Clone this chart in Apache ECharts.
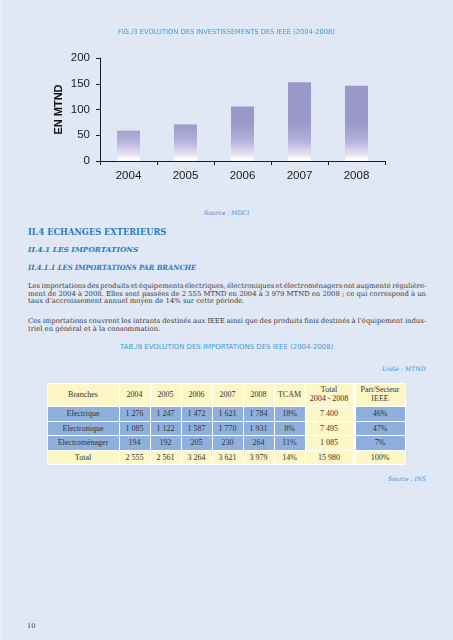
<!DOCTYPE html>
<html><head><meta charset="utf-8">
<script src="https://cdn.jsdelivr.net/npm/echarts@6/dist/echarts.min.js"></script>
<style>
html,body{margin:0;padding:0;}
body{width:453px;height:640px;background:#e1e8f5;position:relative;overflow:hidden;}
#edge{position:absolute;left:0;top:0;width:2px;height:640px;background:#e9eff9;}
#chart{position:absolute;left:0;top:0;width:453px;height:200px;}
.t{position:absolute;white-space:nowrap;transform-origin:0 50%;}
.cap{font-family:"DejaVu Sans Condensed","DejaVu Sans",sans-serif;color:#3d9bd6;}
.src{font-family:"DejaVu Serif",serif;font-style:italic;color:#3a8ccf;}
.h{font-family:"DejaVu Serif",serif;font-weight:bold;color:#2a7cc0;}
.hi{font-family:"DejaVu Serif",serif;font-weight:bold;font-style:italic;color:#2a7cc0;}
.pn{font-family:"DejaVu Serif",serif;color:#333;}
.line{position:absolute;left:28px;white-space:nowrap;font-family:"DejaVu Serif",serif;color:#3a3a3a;}
#tbl{position:absolute;left:46.5px;top:382.5px;border-collapse:collapse;font-family:"Liberation Serif",serif;font-size:7.5px;color:#333;table-layout:fixed;}
#tbl td{border:1px solid #fff;text-align:center;padding:0;overflow:hidden;white-space:nowrap;}
#probe{position:absolute;left:0;top:-50px;white-space:nowrap;font-size:10px;}
</style></head>
<body>
<div id="edge"></div>
<div id="chart"></div>
<div id="texts"></div>
<table id="tbl"></table>
<span id="probe"></span>
<script>
// ---- chart data ----
const years = ['2004', '2005', '2006', '2007', '2008'];
const invest = [59, 71, 106, 153, 146];
const yAxisName = 'EN MTND';
const figTitle = 'FIG./3 EVOLUTION DES INVESTISSEMENTS DES IEEE (2004-2008)';

// ---- table data ----
const tabTitle = 'TAB./8  EVOLUTION DES IMPORTATIONS DES IEEE (2004-2008)';
const tableHeader = ['Branches', '2004', '2005', '2006', '2007', '2008', 'TCAM', 'Total<br>2004 - 2008', 'Part/Secteur<br>IEEE'];
const rowElectrique = ['Electrique', '1 276', '1 247', '1 472', '1 621', '1 784', '18%', '7 400', '46%'];
const rowElectronique = ['Electronique', '1 085', '1 122', '1 587', '1 770', '1 931', '8%', '7 495', '47%'];
const rowElectromenager = ['Electroménager', '194', '192', '205', '230', '264', '11%', '1 085', '7%'];
const rowTotal = ['Total', '2 555', '2 561', '3 264', '3 621', '3 979', '14%', '15 980', '100%'];

// ---- page text ----
const para1 = [
  'Les importations des produits et équipements électriques, électroniques et électroménagers ont augmenté régulière-',
  'ment de 2004 à 2008. Elles sont passées de 2 555 MTND en 2004 à 3 979 MTND en 2008 ; ce qui correspond à un',
  'taux d\u2019accroissement annuel moyen de 14% sur cette période.'
];
const para2 = [
  'Ces importations couvrent les intrants destinés aux IEEE ainsi que des produits finis destinés à l\u2019équipement indus-',
  'triel en général et à la consommation.'
];

// ---- chart ----
const chart = echarts.init(document.getElementById('chart'), null, {renderer: 'canvas'});
const axisColor = '#1a1a1a';
chart.setOption({
  animation: false,
  grid: {left: 100, top: 58, width: 285, height: 103},
  xAxis: {
    type: 'category', data: years,
    axisLine: {lineStyle: {color: axisColor, width: 1}},
    axisTick: {show: true, length: 4, lineStyle: {color: axisColor}},
    axisLabel: {fontFamily: 'Liberation Sans', fontSize: 11.5, color: axisColor, margin: 9}
  },
  yAxis: {
    type: 'value', min: 0, max: 200, interval: 50,
    name: yAxisName, nameLocation: 'middle', nameGap: 36, nameRotate: 90, nameMoveOverlap: false,
    nameTextStyle: {fontFamily: 'Liberation Sans', fontWeight: 'bold', fontSize: 11, color: '#111'},
    axisLine: {show: true, lineStyle: {color: axisColor, width: 1}},
    axisTick: {show: true, length: 4, lineStyle: {color: axisColor}},
    splitLine: {show: false},
    axisLabel: {fontFamily: 'Liberation Sans', fontSize: 11.5, color: axisColor, margin: 10}
  },
  series: [{
    type: 'bar', data: invest, barWidth: 23,
    itemStyle: {
      color: new echarts.graphic.LinearGradient(0, 122, 0, 159, [
        {offset: 0, color: '#9a97c9'},
        {offset: 0.5, color: '#b3b0da'},
        {offset: 0.88, color: '#e6e2f3'},
        {offset: 1, color: '#fdfbff'}
      ], true)
    }
  }]
});

// ---- page texts ----
const T = document.getElementById('texts');
function addText(cls, text, fs, x, align, cy, w) {
  const d = document.createElement('div');
  d.className = 't ' + cls;
  d.textContent = text;
  d.style.fontSize = fs + 'px';
  d.style.lineHeight = (fs * 1.2) + 'px';
  d.style.top = (cy - fs * 0.6) + 'px';
  T.appendChild(d);
  d._fit = {x: x, align: align, w: w};
  return d;
}
const items = [
  addText('cap', figTitle, 7, 226.5, 'c', 31.7, 217),
  addText('src', 'Source : MDCI', 6.3, 226.5, 'c', 213, 45),
  addText('h', 'II.4 ECHANGES EXTERIEURS', 8.5, 28, 'l', 231.7, 138),
  addText('hi', 'II.4.1 LES IMPORTATIONS', 8, 28, 'l', 249.3, 110),
  addText('hi', 'II.4.1.1 LES IMPORTATIONS PAR BRANCHE', 7.2, 28, 'l', 268.3, 168),
  addText('cap', tabTitle, 7, 226.5, 'c', 347, 213),
  addText('src', 'Unité : MTND', 6.3, 426, 'r', 368.3, 43.7),
  addText('src', 'Source : INS', 6.3, 426, 'r', 478.3, 38),
  addText('pn', '10', 6.5, 27, 'l', 627, null)
];

// body text font size chosen so the unjustified last lines match their measured widths
const probe = document.getElementById('probe');
function widthAt10(s, fam) { probe.style.fontFamily = fam; probe.textContent = s; return probe.offsetWidth; }
function bodySize() {
  const a = 181 / widthAt10(para1[2], '"DejaVu Serif"') * 10;
  const b = 154 / widthAt10(para2[1], '"DejaVu Serif"') * 10;
  return (a + b) / 2;
}
const lines = [];
function addPara(ls, cys) {
  ls.forEach((s, i) => {
    const d = document.createElement('div');
    d.className = 'line';
    d.textContent = s;
    d.style.lineHeight = '8px';
    d.style.top = (cys[i] - 4) + 'px';
    T.appendChild(d);
    d._just = (i < ls.length - 1);
    lines.push(d);
  });
}
addPara(para1, [286, 293.7, 301.3]);
addPara(para2, [321, 328.7]);

// ---- table ----
const colW = [72, 31, 31, 31, 31, 31, 31, 49, 51];
const tbl = document.getElementById('tbl');
const cg = document.createElement('colgroup');
colW.forEach(w => { const c = document.createElement('col'); c.style.width = w + 'px'; cg.appendChild(c); });
tbl.appendChild(cg);
tbl.style.width = colW.reduce((a, b) => a + b, 0) + 'px';
const YEL = '#fdf6c6', BLUE = '#8fb0dc';
function addRow(cells, h, isHeader, isTotal) {
  const tr = document.createElement('tr');
  cells.forEach((c, j) => {
    const td = document.createElement('td');
    td.innerHTML = c;
    td.style.height = h + 'px';
    let bg = BLUE;
    if (isHeader || isTotal || j === 7) bg = YEL;
    td.style.background = bg;
    if (j === 7) td.style.borderRight = '3px solid #fff';
    if (isHeader) td.style.lineHeight = '8.5px';
    tr.appendChild(td);
  });
  tbl.appendChild(tr);
}
addRow(tableHeader, 22.5, true, false);
addRow(rowElectrique, 13.5, false, false);
addRow(rowElectronique, 13.5, false, false);
addRow(rowElectromenager, 13.5, false, false);
addRow(rowTotal, 13.5, false, true);

function fitAll() {
  items.forEach(d => {
    const f = d._fit;
    d.style.transform = 'none';
    const w0 = d.offsetWidth;
    const s = f.w ? f.w / w0 : 1;
    const w = w0 * s;
    let left = f.x;
    if (f.align === 'c') left = f.x - w / 2;
    if (f.align === 'r') left = f.x - w;
    d.style.left = left + 'px';
    d.style.transform = 'scaleX(' + s + ')';
  });
  const fs = bodySize();
  lines.forEach(d => {
    d.style.fontSize = fs + 'px';
    d.style.wordSpacing = '0px';
    if (!d._just) return;
    const w0 = d.offsetWidth;
    const n = (d.textContent.match(/ /g) || []).length;
    d.style.wordSpacing = ((398 - w0) / n) + 'px';
  });
  // table font so that 'Electroménager' spans ~51px
  tbl.style.fontSize = Math.min(8, 51 / widthAt10(rowElectromenager[0], '"Liberation Serif"') * 10) + 'px';
}
fitAll();
if (document.fonts && document.fonts.ready) document.fonts.ready.then(fitAll);
</script>
</body></html>
